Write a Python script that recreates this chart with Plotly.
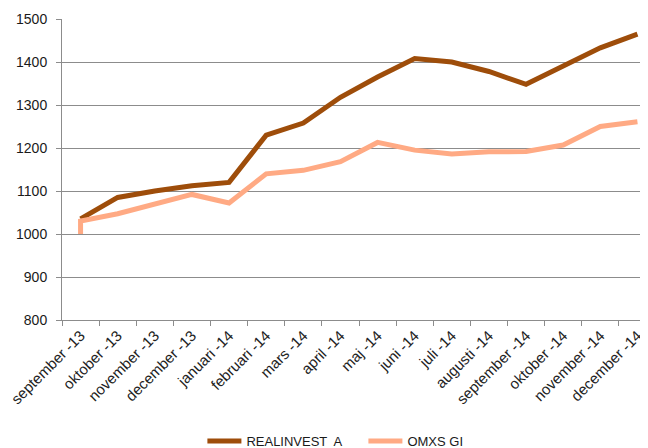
import plotly.graph_objects as go

months = ["september -13", "oktober -13", "november -13", "december -13",
          "januari -14", "februari -14", "mars -14", "april -14", "maj -14",
          "juni -14", "juli -14", "augusti -14", "september -14",
          "oktober -14", "november -14", "december -14"]
realinvest = [1035, 1085, 1100, 1112, 1120, 1230, 1258, 1318, 1365, 1408,
              1400, 1378, 1348, 1392, 1433, 1465]
omxs_x = [months[0]] + months
omxs = [1000, 1030, 1047, 1070, 1092, 1072, 1140, 1148, 1168, 1213, 1195,
        1186, 1191, 1192, 1207, 1250, 1261]
y_ticks = [800, 900, 1000, 1100, 1200, 1300, 1400, 1500]

DARK = "#9E4D0A"
LIGHT = "#FFAA84"
GRID = "#8C8C8C"
FONT = "Liberation Sans"

fig = go.Figure()
fig.add_trace(go.Scatter(x=months, y=realinvest, mode="lines", name="REALINVEST  A",
                         line=dict(color=DARK, width=5)))
fig.add_trace(go.Scatter(x=omxs_x, y=omxs, mode="lines", name="OMXS GI",
                         line=dict(color=LIGHT, width=5)))

fig.update_layout(
    width=648, height=448,
    margin=dict(l=54, r=0, t=11, b=136, autoexpand=False),
    paper_bgcolor="white", plot_bgcolor="white",
    font=dict(family=FONT, size=13, color="#1a1a1a"),
    showlegend=True,
    legend=dict(orientation="h", xref="container", yref="container",
                x=0.3, xanchor="left", y=-0.014, yanchor="bottom",
                font=dict(size=13), itemwidth=34, entrywidth=112,
                tracegroupgap=0, bgcolor="rgba(0,0,0,0)"),
    xaxis=dict(type="category", categoryorder="array", categoryarray=months,
               range=[-0.5, 15.5], tickson="boundaries", ticks="outside",
               ticklen=5, tickcolor=GRID, tickangle=-45, showline=True,
               linecolor=GRID, linewidth=1, showgrid=False, zeroline=False,
               tickfont=dict(size=15, color="#222222"), automargin=False),
    yaxis=dict(range=[800, 1500], tickvals=y_ticks, showgrid=True,
               gridcolor=GRID, gridwidth=1, showline=True, linecolor=GRID,
               ticks="outside", ticklen=5, tickcolor=GRID, zeroline=False,
               tickfont=dict(size=14), ticklabelstandoff=6, automargin=False),
)

fig.write_html("out.html")
